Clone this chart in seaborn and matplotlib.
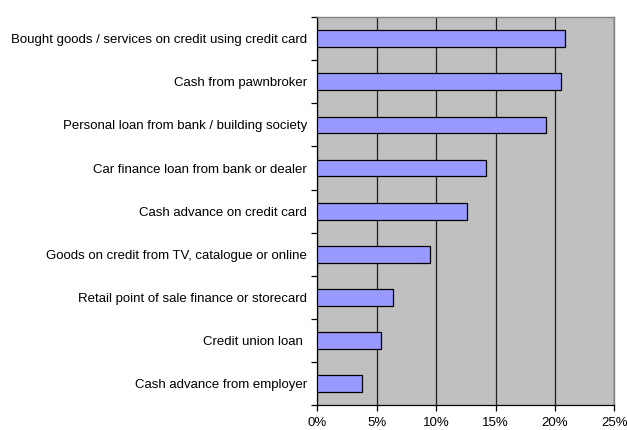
import matplotlib
matplotlib.use("Agg")
import matplotlib.pyplot as plt
from matplotlib.ticker import FixedLocator, PercentFormatter
import seaborn as sns
import pandas as pd
import numpy as np

categories = [
    "Bought goods / services on credit using credit card",
    "Cash from pawnbroker",
    "Personal loan from bank / building society",
    "Car finance loan from bank or dealer",
    "Cash advance on credit card",
    "Goods on credit from TV, catalogue or online",
    "Retail point of sale finance or storecard",
    "Credit union loan ",
    "Cash advance from employer",
]
shares = [20.85, 20.5, 19.25, 14.17, 12.63, 9.46, 6.34, 5.36, 3.79]
x_ticks = [0, 5, 10, 15, 20, 25]

df = pd.DataFrame({"category": categories, "share": shares})

sns.set_theme(style="white")
plt.rcParams["font.family"] = ["Liberation Sans", "DejaVu Sans"]

fig = plt.figure(figsize=(6.27, 4.30), dpi=100)
ax = fig.add_axes([0.506, 0.058, 0.474, 0.902])
ax.set_facecolor("#C0C0C0")

sns.barplot(data=df, x="share", y="category", orient="h", width=0.39,
            color="#9999FF", edgecolor="black", linewidth=0.9,
            saturation=1, ax=ax, zorder=3)

ax.set_xlim(0, 25)
ax.set_ylim(len(categories) - 0.5, -0.5)
ax.xaxis.set_major_locator(FixedLocator(x_ticks))
ax.xaxis.set_major_formatter(PercentFormatter(decimals=0))
ax.grid(axis="x", color="#202020", linewidth=0.9, zorder=1)
ax.set_axisbelow(True)

# category labels centred, tick marks on category boundaries
ax.set_yticks(range(len(categories)))
ax.set_yticklabels(categories)
ax.yaxis.set_minor_locator(FixedLocator(np.arange(-0.5, len(categories), 1.0)))
ax.tick_params(axis="y", which="major", length=0, pad=7.5, labelsize=9.5, colors="black")
ax.tick_params(axis="y", which="minor", left=True, length=4.5, width=0.9, color="black")
ax.tick_params(axis="x", which="major", bottom=True, length=4, width=0.9,
               color="black", labelsize=9.5, pad=4.5, labelcolor="black")

ax.set_xlabel("")
ax.set_ylabel("")

for side in ("left", "bottom"):
    ax.spines[side].set_color("black")
    ax.spines[side].set_linewidth(0.9)
for side in ("top", "right"):
    ax.spines[side].set_visible(True)
    ax.spines[side].set_color("#808080")
    ax.spines[side].set_linewidth(1.0)

fig.savefig("out.png", dpi=100, facecolor="white")
